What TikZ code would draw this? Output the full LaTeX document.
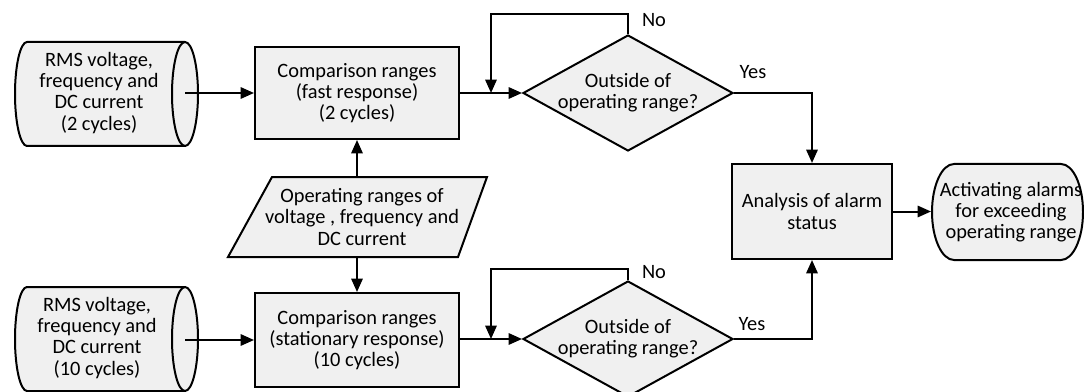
\documentclass[tikz,border=0pt]{standalone}
\usepackage{fontspec}
\setmainfont{Carlito}
\usetikzlibrary{shapes.geometric,arrows.meta,calc}
\definecolor{boxfill}{RGB}{240,240,240}
\begin{document}
\begin{tikzpicture}[x=0.75pt,y=-0.75pt,
  font=\fontsize{15.3pt}{15.8pt}\selectfont,
  line width=1.5pt,
  arr/.style={-{Triangle[length=10pt,width=8.5pt]}},
  box/.style={draw, fill=boxfill, inner sep=0pt, align=center},
  txt/.style={align=center, inner sep=0pt},
  shp/.style={draw, fill=boxfill},
  dia/.style={diamond, draw, fill=boxfill, inner sep=0pt, minimum width=157.5pt, minimum height=87pt},
]
\clip (0,0) rectangle (1084,392);

% cylinders
\path[shp] (27,42) -- (185,42) arc[start angle=90,end angle=-90,x radius=9.75pt,y radius=39pt]
  -- (27,146) arc[start angle=-90,end angle=-270,x radius=9pt,y radius=39pt] -- cycle;
\draw (185,42) arc[start angle=90,end angle=270,x radius=9.75pt,y radius=39pt];
\path[shp] (27,287) -- (185,287) arc[start angle=90,end angle=-90,x radius=9.75pt,y radius=39pt]
  -- (27,391) arc[start angle=-90,end angle=-270,x radius=9pt,y radius=39pt] -- cycle;
\draw (185,287) arc[start angle=90,end angle=270,x radius=9.75pt,y radius=39pt];
\node[txt] (c1) at (99,93) {RMS voltage,\\frequency and\\DC current\\(2 cycles)};
\node[txt] (c2) at (97,338) {RMS voltage,\\frequency and\\DC current\\(10 cycles)};
\coordinate (c1e) at (185,93);
\coordinate (c2e) at (185,340);

% boxes
\node[box, minimum width=153pt, minimum height=69pt] (b1) at (357,93) {Comparison ranges\\(fast response)\\(2 cycles)};
\node[box, minimum width=153pt, minimum height=70.5pt] (b2) at (357,340) {Comparison ranges\\(stationary response)\\(10 cycles)};
\node[box, minimum width=120pt, minimum height=71.25pt] (an) at (812,211.5) {Analysis of alarm\\status};

% parallelogram
\path[shp] (272,177) -- (487,177) -- (458,257) -- (228,257) -- cycle;
\node[txt, minimum height=60pt] (pa) at (362,217) {Operating ranges of\\voltage , frequency and\\DC current};

% diamonds
\node[dia] (d1) at (628,93) {};
\node[txt] (d1t) at (d1) {Outside of\\operating range?};
\node[dia] (d2) at (628,339) {};
\node[txt] (d2t) at (d2) {Outside of\\operating range?};

% terminal
\node[minimum width=113.25pt, minimum height=72pt, inner sep=0pt] (term) at (1007.5,212) {};
\path[shp] (954,164) -- (1061,164) arc[start angle=90,end angle=-90,x radius=16.5pt,y radius=36pt]
  -- (954,260) arc[start angle=270,end angle=90,x radius=16.5pt,y radius=36pt] -- cycle;
\node[txt] (tt) at (1011,212) {Activating alarms\\for exceeding\\operating range};

% connectors
\draw[arr] (c1e) -- (c1e -| b1.west);
\draw[arr] (c2e) -- (c2e -| b2.west);
\draw[arr] (b1.south |- pa.north) -- (b1.south);
\draw[arr] (b2.north |- pa.south) -- (b2.north);
\draw[arr] (b1.east) -- (d1.west);
\draw[arr] (b2.east |- d2.west) -- (d2.west);
\coordinate (j1) at (491,93);
\coordinate (j2) at (491,339);
\draw[arr] (d1.north) -- ++(0,-20) -| (j1);
\draw[arr] (d2.north) -- ++(0,-11) -| (j2);
\draw[arr] (d1.east) -| (an.north);
\draw[arr] (d2.east) -| (an.south);
\draw[arr] (an.east) -- (an.east -| term.west);

% labels
\node[txt] (no1) at (654,20) {No};
\node[txt] (no2) at (654,272) {No};
\node[txt] (yes1) at (753,72) {Yes};
\node[txt] (yes2) at (752,324) {Yes};
\end{tikzpicture}
\end{document}
